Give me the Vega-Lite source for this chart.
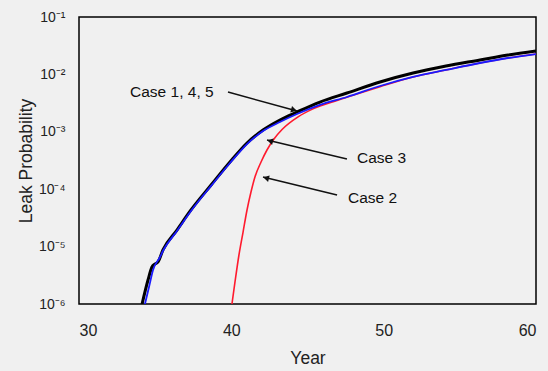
{
  "$schema": "https://vega.github.io/schema/vega-lite/v6.json",
  "width": 457,
  "height": 287,
  "autosize": {"type": "none"},
  "padding": {"left": 79, "top": 17, "right": 12, "bottom": 67},
  "background": "#f0f0f0",
  "config": {
    "view": {"stroke": "#000000", "strokeWidth": 1.5, "fill": "#f0f0f0"},
    "font": "Liberation Sans",
    "axis": {"grid": false, "domain": false, "ticks": false, "labelColor": "#222222", "titleColor": "#222222", "labelFont": "Liberation Sans", "titleFont": "Liberation Sans", "titleFontWeight": "normal"}
  },
  "datasets": {
    "black": [
      {"year": 34.14, "p": 1e-6},
      {"year": 34.53, "p": 2.62e-6},
      {"year": 34.79, "p": 4.42e-6},
      {"year": 34.99, "p": 4.98e-6},
      {"year": 35.19, "p": 5.40e-6},
      {"year": 35.51, "p": 8.73e-6},
      {"year": 36.43, "p": 1.945e-5},
      {"year": 37.35, "p": 4.345e-5},
      {"year": 38.67, "p": 1.183e-4},
      {"year": 39.91, "p": 2.979e-4},
      {"year": 41.03, "p": 6.38e-4},
      {"year": 42.08, "p": 1.074e-3},
      {"year": 43.19, "p": 1.607e-3},
      {"year": 44.31, "p": 2.213e-3},
      {"year": 45.82, "p": 3.30e-3},
      {"year": 47.59, "p": 4.74e-3},
      {"year": 49.76, "p": 7.38e-3},
      {"year": 51.93, "p": 1.057e-2},
      {"year": 54.09, "p": 1.40e-2},
      {"year": 56.32, "p": 1.782e-2},
      {"year": 58.16, "p": 2.18e-2},
      {"year": 60.0, "p": 2.559e-2}
    ],
    "blue": [
      {"year": 34.33, "p": 1e-6},
      {"year": 34.6, "p": 2.0e-6},
      {"year": 34.86, "p": 3.91e-6},
      {"year": 35.32, "p": 6.59e-6},
      {"year": 35.51, "p": 8.38e-6},
      {"year": 36.43, "p": 1.87e-5},
      {"year": 37.35, "p": 4.17e-5},
      {"year": 38.67, "p": 1.14e-4},
      {"year": 39.91, "p": 2.86e-4},
      {"year": 41.03, "p": 6.12e-4},
      {"year": 42.08, "p": 1.03e-3},
      {"year": 43.19, "p": 1.48e-3},
      {"year": 44.31, "p": 2.04e-3},
      {"year": 45.82, "p": 2.95e-3},
      {"year": 47.59, "p": 4.04e-3},
      {"year": 49.76, "p": 6.28e-3},
      {"year": 51.93, "p": 9.02e-3},
      {"year": 54.09, "p": 1.194e-2},
      {"year": 56.32, "p": 1.58e-2},
      {"year": 58.16, "p": 1.93e-2},
      {"year": 60.0, "p": 2.265e-2}
    ],
    "red": [
      {"year": 40.04, "p": 1e-6},
      {"year": 40.24, "p": 2.42e-6},
      {"year": 40.50, "p": 7.14e-6},
      {"year": 40.77, "p": 1.795e-5},
      {"year": 41.03, "p": 4.345e-5},
      {"year": 41.29, "p": 8.93e-5},
      {"year": 41.55, "p": 1.633e-4},
      {"year": 41.95, "p": 2.979e-4},
      {"year": 42.34, "p": 4.82e-4},
      {"year": 42.80, "p": 7.50e-4},
      {"year": 43.33, "p": 1.096e-3},
      {"year": 44.38, "p": 1.82e-3},
      {"year": 45.36, "p": 2.51e-3},
      {"year": 46.94, "p": 3.51e-3},
      {"year": 48.45, "p": 4.74e-3},
      {"year": 49.76, "p": 6.10e-3},
      {"year": 51.93, "p": 9.02e-3},
      {"year": 54.09, "p": 1.194e-2},
      {"year": 56.32, "p": 1.58e-2},
      {"year": 58.16, "p": 1.93e-2},
      {"year": 60.0, "p": 2.265e-2}
    ],
    "arrows": [
      {"label": "Case 1, 4, 5", "x1": 39.78, "y1": 0.00493, "x2": 44.31, "y2": 0.0023, "hx": 44.11, "hy": 0.0024, "ang": 15.4, "tx": 33.35, "ty": 0.00493},
      {"label": "Case 3", "x1": 47.59, "y1": 3.36e-4, "x2": 42.34, "y2": 7.19e-4, "hx": 42.54, "hy": 6.92e-4, "ang": 193.4, "tx": 48.25, "ty": 3.50e-4},
      {"label": "Case 2", "x1": 46.94, "y1": 7.92e-5, "x2": 42.08, "y2": 1.633e-4, "hx": 42.28, "hy": 1.567e-4, "ang": 193.7, "tx": 47.66, "ty": 7.03e-5}
    ]
  },
  "layer": [
    {
      "data": {"name": "red"},
      "mark": {"type": "line", "color": "#ff1a2e", "strokeWidth": 1.6, "clip": true, "interpolate": "monotone"},
      "encoding": {
        "x": {"field": "year", "type": "quantitative", "scale": {"domain": [30, 60], "nice": false, "zero": false},
          "axis": {"values": [30, 40, 50, 60], "title": "Year", "labelFontSize": 16, "titleFontSize": 17.5, "labelPadding": 18, "titlePadding": 11}},
        "y": {"field": "p", "type": "quantitative", "scale": {"type": "log", "domain": [1e-6, 0.1], "nice": false},
          "axis": {"values": [1e-6, 1e-5, 1e-4, 1e-3, 1e-2, 1e-1], "title": "Leak Probability", "labelFontSize": 14, "titleFontSize": 17.5, "labelPadding": 14, "titlePadding": 3,
            "labelExpr": "'10⁻' + ['', '¹', '²', '³', '⁴', '⁵', '⁶'][round(-log(datum.value) / LN10)]"}}
      }
    },
    {
      "data": {"name": "black"},
      "mark": {"type": "line", "color": "#000000", "strokeWidth": 3, "clip": true, "interpolate": "monotone"},
      "encoding": {
        "x": {"field": "year", "type": "quantitative"},
        "y": {"field": "p", "type": "quantitative"}
      }
    },
    {
      "data": {"name": "blue"},
      "mark": {"type": "line", "color": "#1a1aff", "strokeWidth": 1.8, "clip": true, "interpolate": "monotone"},
      "encoding": {
        "x": {"field": "year", "type": "quantitative"},
        "y": {"field": "p", "type": "quantitative"}
      }
    },
    {
      "data": {"name": "arrows"},
      "mark": {"type": "rule", "color": "#111111", "strokeWidth": 1.5},
      "encoding": {
        "x": {"field": "x1", "type": "quantitative"},
        "y": {"field": "y1", "type": "quantitative"},
        "x2": {"field": "x2"},
        "y2": {"field": "y2"}
      }
    },
    {
      "data": {"name": "arrows"},
      "mark": {"type": "point", "shape": "triangle-right", "filled": true, "color": "#111111", "size": 45, "opacity": 1},
      "encoding": {
        "x": {"field": "hx", "type": "quantitative"},
        "y": {"field": "hy", "type": "quantitative"},
        "angle": {"field": "ang", "type": "quantitative", "scale": null}
      }
    },
    {
      "data": {"name": "arrows"},
      "mark": {"type": "text", "align": "left", "baseline": "middle", "fontSize": 15.5, "color": "#111111", "font": "Liberation Sans"},
      "encoding": {
        "x": {"field": "tx", "type": "quantitative"},
        "y": {"field": "ty", "type": "quantitative"},
        "text": {"field": "label"}
      }
    }
  ]
}
